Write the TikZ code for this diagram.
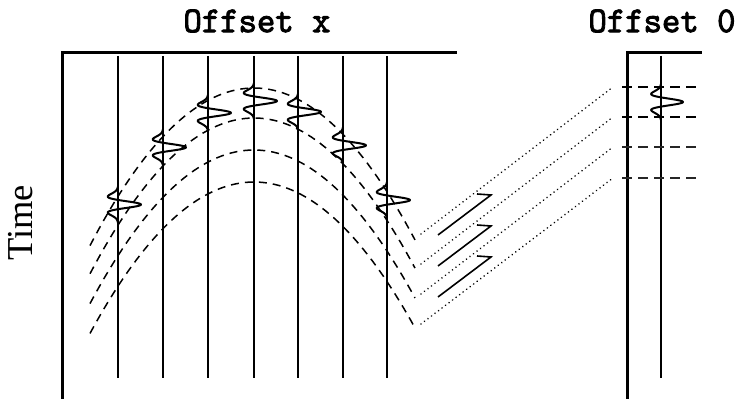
\documentclass[tikz,border=0pt]{standalone}
\usepackage{fontspec}
\usepackage{graphicx}
\newfontfamily\serifb{Liberation Serif}
\newfontfamily\ttb{lmmono10-regular.otf}[FakeBold=2.5]
\tikzset{
  frame/.style={line width=3pt, line cap=rect},
  trace/.style={line width=1.2pt},
  wavelet/.style={line width=2pt, line join=round},
  dashcurve/.style={line width=1.5pt, dash pattern=on 8pt off 6pt},
  dotline/.style={line width=1.8pt, dash pattern=on 0.01pt off 4.4pt, line cap=round, black},
  hookline/.style={line width=1.6pt, line join=miter},
  zdash/.style={line width=1.4pt, dash pattern=on 10pt off 6pt},
  ttlabel/.style={font=\ttb\fontsize{35}{40}\selectfont, inner sep=0pt},
}
\begin{document}
\begin{tikzpicture}[x=1pt, y=-1pt]
\useasboundingbox (0,0) rectangle (740,403);
% labels
\node[ttlabel] (lx) at (257,21) {\scalebox{1}[1.04]{Offset x}};
\node[ttlabel] (l0) at (662,21) {\scalebox{1}[1.04]{Offset 0}};
\node[rotate=90, inner sep=0pt, font=\serifb\fontsize{36.5}{40}\selectfont] (lt) at (21,223) {Time};
% left frame
\draw[frame] (455,53) -- (62,53) -- (62,398);
% traces with wavelets
\foreach \X in {118,163,208,254,298,343,387} {
  \pgfmathsetmacro\dd{(\X-254)/10}
  \pgfmathsetmacro\yc{101+0.56*\dd*\dd}
  \pgfmathsetmacro\ya{\yc-18}
  \pgfmathsetmacro\yb{\yc+18}
  \draw[trace] (\X,56) -- (\X,378);
  \draw[wavelet] plot[domain=\ya:\yb, samples=90, variable=\s]
    ({\X+23*(1-2*pow(0.153*(\s-\yc),2))*exp(0-pow(0.153*(\s-\yc),2))},{\s});
}
% dashed moveout curves
\draw[dashcurve] plot[domain=-16.4:16.1, samples=70, variable=\s] ({254+10*\s},{88+0.586*\s*\s});
\draw[dashcurve] plot[domain=-16.4:16.1, samples=70, variable=\s] ({254+10*\s},{118+0.579*\s*\s});
\draw[dashcurve] plot[domain=-16.4:16.1, samples=70, variable=\s] ({254+10*\s},{150+0.571*\s*\s});
\draw[dashcurve] plot[domain=-16.4:16.1, samples=70, variable=\s] ({254+10*\s},{182+0.563*\s*\s});
% dotted connectors
\coordinate (d1) at (421,234);
\coordinate (d2) at (421,264);
\coordinate (d3) at (421,294);
\coordinate (d4) at (421,324);
\coordinate (z1) at (613,87);
\coordinate (z2) at (613,117);
\coordinate (z3) at (613,147);
\coordinate (z4) at (613,178);
\draw[dotline] (d1) -- (z1);
\draw[dotline] (d2) -- (z2);
\draw[dotline] (d3) -- (z3);
\draw[dotline] (d4) -- (z4);
% NMO strokes
\draw[hookline] (438,235) -- (491,195) -- (477,194);
\draw[hookline] (438,266) -- (491,226) -- (477,225);
\draw[hookline] (438,297) -- (491,257) -- (477,256);
% right frame
\draw[frame] (700,53) -- (627,53) -- (627,398);
\draw[trace] (661,56) -- (661,378);
\draw[wavelet] plot[domain=84:120, samples=90, variable=\s]
  ({661+22*(1-2*pow(0.153*(\s-102),2))*exp(0-pow(0.153*(\s-102),2))},{\s});
\draw[zdash] (622,87) -- (700,87);
\draw[zdash] (622,117) -- (700,117);
\draw[zdash, line width=1.8pt, black!85] (622,147) -- (700,147);
\draw[zdash, line width=1.8pt, black!85] (622,178) -- (700,178);
\end{tikzpicture}
\end{document}
